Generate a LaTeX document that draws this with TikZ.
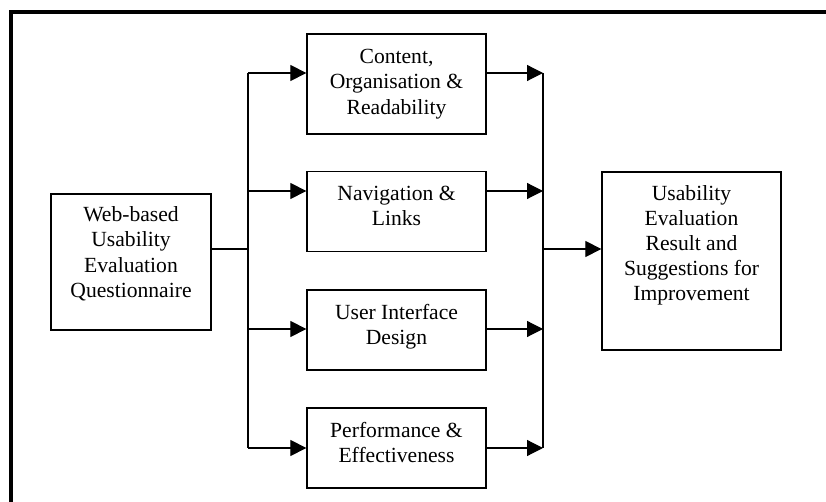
\documentclass[tikz,border=0pt]{standalone}
\usepackage{fontspec}
\setmainfont{Liberation Serif}
\usetikzlibrary{arrows.meta}

\begin{document}
\begin{tikzpicture}[x=0.5pt,y=-0.5pt,
    box/.style={draw,line width=0.65pt,align=center,inner sep=0pt,minimum width=89.5pt,minimum height=40pt,font=\fontsize{10.8}{12.6}\selectfont},
    flow/.style={-{Triangle[length=8pt,width=8pt]},line width=0.6pt},
    wire/.style={line width=0.6pt}]
            \useasboundingbox (0,0) rectangle (826,502);
            \draw[line width=2pt] (826,12)--(11,12)--(11,502);
            \node[box,minimum width=80pt,minimum height=68pt,text depth=10pt] (quest) at (131,262) {Web-based\\Usability\\Evaluation\\Questionnaire};
            \node[box,minimum height=50pt] (content) at (396.5,84) {Content,\\Organisation \&\\Readability};
            \node[box,text depth=6pt] (nav) at (396.5,211.5) {Navigation \&\\Links};
            \node[box,text depth=6pt] (ui) at (396.5,330) {User Interface\\Design};
            \node[box,text depth=6pt] (perf) at (396.5,448) {Performance \&\\Effectiveness};
            \node[box,minimum height=89pt,text depth=18pt] (result) at (691.5,261) {Usability\\Evaluation\\Result and\\Suggestions for\\Improvement};
            \coordinate (split) at (248,249);
            \coordinate (join) at (543,249);
            \draw[wire] (quest.east |- split)--(split);
            \draw[wire] (248,73)--(248,448);
            \draw[wire] (543,73)--(543,448);
            \draw[flow] (248,73)--(content.west |- 248,73);
            \draw[flow] (248,191)--(nav.west |- 248,191);
            \draw[flow] (248,329)--(ui.west |- 248,329);
            \draw[flow] (248,448)--(perf.west |- 248,448);
            \draw[flow] (content.east |- 543,73)--(543,73);
            \draw[flow] (nav.east |- 543,191)--(543,191);
            \draw[flow] (ui.east |- 543,329)--(543,329);
            \draw[flow] (perf.east |- 543,448)--(543,448);
            \draw[flow] (join)--(result.west |- join);
        \end{tikzpicture}
\end{document}
